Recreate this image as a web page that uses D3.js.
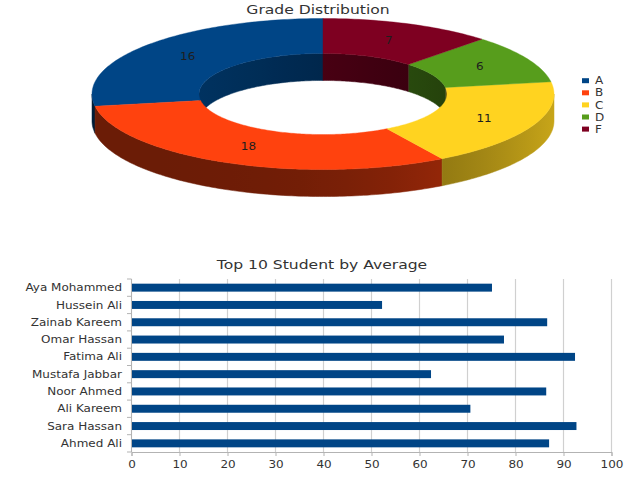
<!DOCTYPE html>
<html>
<head>
<meta charset="utf-8">
<script src="https://cdn.jsdelivr.net/npm/d3@7"></script>
<style>
  body { margin: 0; background: #fff; }
  svg { display: block; font-family: "DejaVu Sans", sans-serif; }
</style>
</head>
<body>
<svg id="chart" width="640" height="480"></svg>
<script>
// grade distribution
const grades = ["A", "B", "C", "D", "F"];
const gradeCounts = [16, 18, 11, 6, 7];
const gradeColors = ["#004586", "#ff420e", "#ffd320", "#579d1c", "#7e0021"];

// top 10 students
const students = ["Aya Mohammed", "Hussein Ali", "Zainab Kareem", "Omar Hassan", "Fatima Ali",
                  "Mustafa Jabbar", "Noor Ahmed", "Ali Kareem", "Sara Hassan", "Ahmed Ali"];
const averages = [75.1, 52.2, 86.6, 77.6, 92.4, 62.4, 86.4, 70.6, 92.7, 87.0];
const xTicks = [0, 10, 20, 30, 40, 50, 60, 70, 80, 90, 100];

const svg = d3.select("#chart");
const defs = svg.append("defs");
const SX = 1.2; // the reference text is a bit wide

function label(g, x, y, str, size, anchor) {
  return g.append("text")
    .attr("transform", "translate(" + x + "," + y + ") scale(" + SX + ",1)")
    .attr("text-anchor", anchor || "start")
    .attr("font-size", size)
    .attr("fill", "#333")
    .text(str);
}

function shade(c, f) {
  const r = d3.rgb(c);
  return d3.rgb(r.r * f, r.g * f, r.b * f).toString();
}

// ---------- 3d donut ----------
const cx = 323, cy = 94, rxO = 231, rxI = 124, k = 0.327, depth = 27;
const pt = (phi, rx, dz) => [cx - rx * Math.sin(phi), cy - rx * k * Math.cos(phi) + (dz || 0)];
const arcs = d3.pie().sort(null).value(d => d)(gradeCounts);
const step = Math.PI / 180;

function angles(a, b) {
  const n = Math.max(2, Math.ceil((b - a) / step) + 1);
  return d3.range(n).map(i => a + (b - a) * i / (n - 1));
}

// horizontal shading gradient for one wall
function wallGradient(id, color, rx, fShade) {
  const gr = defs.append("linearGradient")
    .attr("id", id)
    .attr("gradientUnits", "userSpaceOnUse")
    .attr("x1", cx - rx).attr("x2", cx + rx)
    .attr("y1", 0).attr("y2", 0);
  d3.range(0, 1.0001, 0.05).forEach(t => {
    gr.append("stop").attr("offset", t).attr("stop-color", shade(color, fShade(t)));
  });
  return "url(#" + id + ")";
}

function wall(g, d, lo, hi, rx, fill) {
  const a = Math.max(d.startAngle, lo), b = Math.min(d.endAngle, hi);
  if (b <= a) return;
  const as = angles(a, b);
  const pts = as.map(p => pt(p, rx)).concat(as.slice().reverse().map(p => pt(p, rx, depth)));
  g.append("path")
    .attr("d", d3.line()(pts) + "Z")
    .attr("fill", fill)
    .attr("stroke", fill)
    .attr("stroke-width", 0.5);
}

const donut = svg.append("g");
label(svg, 318, 13.5, "Grade Distribution", 13, "middle");

const inner = donut.append("g");
const outer = donut.append("g");
arcs.forEach((d, i) => {
  const fillIn = wallGradient("gin" + i, gradeColors[i], rxI, t => 0.72 - 0.3 * t);
  const fillOut = wallGradient("gout" + i, gradeColors[i], rxO, t => 0.42 + 0.36 * Math.pow(t, 3));
  wall(inner, d, 0, Math.PI / 2, rxI, fillIn);
  wall(inner, d, 3 * Math.PI / 2, 2 * Math.PI, rxI, fillIn);
  wall(outer, d, Math.PI / 2, 3 * Math.PI / 2, rxO, fillOut);
});

donut.append("g").selectAll("path")
  .data(arcs)
  .join("path")
  .attr("d", d => {
    const pts = angles(d.startAngle, d.endAngle).map(a => pt(a, rxO))
      .concat(angles(d.startAngle, d.endAngle).reverse().map(a => pt(a, rxI)));
    return d3.line()(pts) + "Z";
  })
  .attr("fill", (d, i) => gradeColors[i])
  .attr("stroke", (d, i) => gradeColors[i])
  .attr("stroke-width", 0.4);

arcs.forEach(d => {
  const p = pt((d.startAngle + d.endAngle) / 2, (rxO + rxI) / 2);
  label(donut, p[0], p[1], d.data, 10, "middle")
    .attr("dy", "0.35em")
    .attr("fill", "#1e1e1e");
});

// legend
const legend = svg.append("g");
grades.forEach((gr, i) => {
  const ly = 80.7 + i * 12.1;
  legend.append("rect")
    .attr("x", 582).attr("y", ly - 2.5)
    .attr("width", 7).attr("height", 5)
    .attr("fill", gradeColors[i]);
  label(legend, 595, ly, gr, 10).attr("dy", "0.36em");
});

// ---------- bar chart ----------
const x = d3.scaleLinear().domain([0, 100]).range([131.5, 611.5]);
const y = d3.scaleBand().domain(students).range([279, 452])
  .paddingInner(0.54).paddingOuter(0.27);

const bars = svg.append("g");
label(svg, 322, 269, "Top 10 Student by Average", 13, "middle");

bars.append("g").selectAll("line")
  .data(xTicks)
  .join("line")
  .attr("x1", d => x(d)).attr("x2", d => x(d))
  .attr("y1", 279).attr("y2", 452)
  .attr("stroke", "#d0d0d0")
  .attr("stroke-width", 1.2);

bars.append("g").selectAll("rect")
  .data(students)
  .join("rect")
  .attr("x", x(0))
  .attr("y", d => y(d))
  .attr("width", (d, i) => x(averages[i]) - x(0))
  .attr("height", y.bandwidth())
  .attr("fill", "#004586");

const xAxis = bars.append("g")
  .attr("transform", "translate(0,452)")
  .call(d3.axisBottom(x).tickValues(xTicks).tickSize(4).tickPadding(5));
xAxis.select(".domain").attr("stroke", "#b3b3b3");
xAxis.selectAll(".tick line").attr("stroke", "#b3b3b3");
xAxis.selectAll(".tick text")
  .attr("transform", "scale(" + SX + ",1)")
  .attr("font-size", 10)
  .attr("font-family", "DejaVu Sans")
  .attr("fill", "#333");

// category boundaries on the left axis
bars.append("g").selectAll("line")
  .data(d3.range(students.length + 1))
  .join("line")
  .attr("x1", 127).attr("x2", x(0))
  .attr("y1", i => 279 + i * y.step()).attr("y2", i => 279 + i * y.step())
  .attr("stroke", "#b3b3b3");
bars.append("line")
  .attr("x1", x(0)).attr("x2", x(0))
  .attr("y1", 279).attr("y2", 452)
  .attr("stroke", "#b3b3b3");

students.forEach(s => {
  label(bars, 122, y(s) + y.bandwidth() / 2, s, 10, "end").attr("dy", "0.36em");
});
</script>
</body>
</html>
